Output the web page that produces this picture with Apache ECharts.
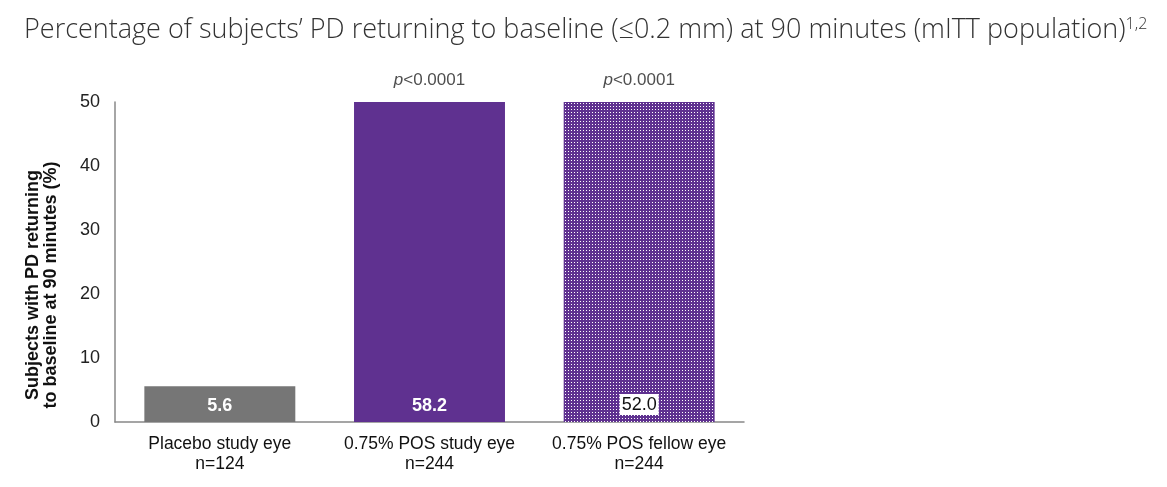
<!DOCTYPE html>
<html>
<head>
<meta charset="utf-8">
<script src="https://cdn.jsdelivr.net/npm/echarts@6/dist/echarts.min.js"></script>
<style>
  html, body { margin: 0; padding: 0; background: #fff; }
  #chart { width: 1167px; height: 487px; }
</style>
</head>
<body>
<div id="chart"></div>
<script>
// data
const categories = ['Placebo study eye\nn=124', '0.75% POS study eye\nn=244', '0.75% POS fellow eye\nn=244'];
const values = [5.6, 58.2, 52.0];
const pValues = ['', 'p<0.0001', 'p<0.0001'];
const yTicks = [0, 10, 20, 30, 40, 50];

const grey = '#767676';
const purple = '#5f3190';

// dotted pattern for the fellow eye bar
function dotPattern() {
    const c = document.createElement('canvas');
    c.width = 3; c.height = 3;
    const ctx = c.getContext('2d');
    ctx.fillStyle = purple;
    ctx.fillRect(0, 0, 3, 3);
    ctx.fillStyle = '#ffffff';
    ctx.fillRect(1, 1, 1, 1);
    return c;
}

const barColors = [grey, purple, { image: dotPattern(), repeat: 'repeat' }];

const chart = echarts.init(document.getElementById('chart'));
chart.setOption({
    animation: false,
    title: {
        text: 'Percentage of subjects’ PD returning to baseline (≤0.2 mm) at 90 minutes (mITT population){sup|1,2}',
        left: 19, top: 11,
        textStyle: {
            fontFamily: 'Open Sans', fontSize: 27, fontWeight: 300, color: '#333',
            rich: { sup: { fontFamily: 'Open Sans', fontSize: 16, fontWeight: 300, color: '#333', verticalAlign: 'top', padding: [0, 0, 12, 0] } }
        }
    },
    grid: { left: 115, right: 423, top: 102, bottom: 65 },
    xAxis: {
        type: 'category',
        data: categories,
        axisLine: { lineStyle: { color: '#888', width: 1.5 } },
        axisTick: { show: false },
        axisLabel: { interval: 0, fontFamily: 'Liberation Sans', fontSize: 17.5, color: '#111', margin: 12, lineHeight: 20 }
    },
    yAxis: {
        type: 'value',
        min: 0, max: 50, interval: 10,
        name: 'Subjects with PD returning\nto baseline at 90 minutes (%)',
        nameLocation: 'middle',
        nameGap: 55,
        nameTextStyle: { fontFamily: 'Liberation Sans', fontSize: 18, fontWeight: 'bold', color: '#111', lineHeight: 18, padding: [0, 46, 0, 0] },
        axisLine: { show: true, lineStyle: { color: '#888', width: 1.5 } },
        axisTick: { show: false },
        splitLine: { show: false },
        axisLabel: {
            fontFamily: 'Liberation Sans', fontSize: 18, color: '#222', margin: 15,
            formatter: v => yTicks.includes(v) ? String(v) : ''
        }
    },
    series: [
        {
            type: 'bar',
            barWidth: '72%',
            clip: true,
            data: values.map((v, i) => ({
                value: v,
                itemStyle: { color: barColors[i] },
                label: i === 2
                    ? { color: '#111', fontWeight: 'normal', backgroundColor: '#fff', padding: [2, 2, 1, 2] }
                    : {}
            })),
            label: {
                show: true,
                position: 'insideBottom',
                distance: 7,
                formatter: p => p.value.toFixed(1),
                fontFamily: 'Liberation Sans', fontSize: 18, fontWeight: 'bold', color: '#fff'
            }
        },
        {
            type: 'scatter',
            symbolSize: 0,
            silent: true,
            data: pValues.map(p => p ? 50 : null),
            label: {
                show: true,
                position: 'top',
                distance: 13,
                formatter: p => pValues[p.dataIndex] ? '{i|p}' + pValues[p.dataIndex].slice(1) : '',
                fontFamily: 'Liberation Sans', fontSize: 17, color: '#222',
                rich: { i: { fontFamily: 'Liberation Sans', fontSize: 17, fontStyle: 'italic', color: '#222' } }
            }
        }
    ]
});
</script>
</body>
</html>
